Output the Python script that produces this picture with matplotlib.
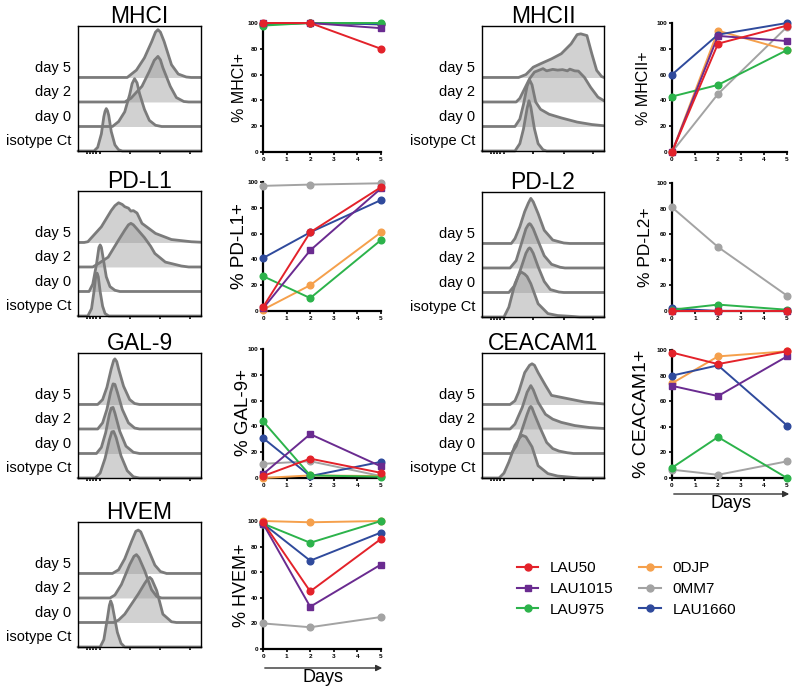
import matplotlib
matplotlib.use("Agg")
import matplotlib.pyplot as plt
from matplotlib.lines import Line2D
from matplotlib.patches import FancyArrowPatch

plt.rcParams['font.family'] = ['Liberation Sans', 'DejaVu Sans']

# ---------------- data ----------------
DAYS = [0, 2, 5]
PATIENTS = ["LAU50", "LAU1015", "LAU975", "0DJP", "0MM7", "LAU1660"]
ROW_LABELS = ["isotype Ct", "day 0", "day 2", "day 5"]

# % positive cells per patient, at days 0, 2, 5
MHCI_PCT = {"LAU50": [100, 100, 80], "LAU1015": [100, 100, 96], "LAU975": [98, 100, 100],
            "0DJP": [99, 100, 99], "0MM7": [99, 100, 99], "LAU1660": [99, 100, 99]}
MHCII_PCT = {"LAU50": [0, 84, 98], "LAU1015": [0, 90, 86], "LAU975": [43, 52, 79],
             "0DJP": [0, 94, 79], "0MM7": [0, 45, 97], "LAU1660": [60, 91, 100]}
PDL1_PCT = {"LAU50": [3, 61, 96], "LAU1015": [2, 47, 95], "LAU975": [27, 10, 55],
            "0DJP": [1, 20, 61], "0MM7": [97, 98, 99], "LAU1660": [41, 61, 86]}
PDL2_PCT = {"LAU50": [0, 0, 0], "LAU1015": [0, 0, 0], "LAU975": [1, 5, 1],
            "0DJP": [0, 0, 0], "0MM7": [81, 50, 12], "LAU1660": [2, 0, 0]}
GAL9_PCT = {"LAU50": [1.5, 15, 4], "LAU1015": [3, 34, 9], "LAU975": [44, 2, 1],
            "0DJP": [0, 2, 1.5], "0MM7": [11, 13, 1.5], "LAU1660": [31, 1.5, 12.5]}
CEACAM1_PCT = {"LAU50": [98, 89, 99], "LAU1015": [72, 64, 95], "LAU975": [8, 32, 0],
               "0DJP": [74, 95, 99], "0MM7": [6.5, 2.5, 13], "LAU1660": [80, 88, 41]}
HVEM_PCT = {"LAU50": [99, 45, 86], "LAU1015": [98, 33, 66], "LAU975": [98, 83, 100],
            "0DJP": [100, 99, 100], "0MM7": [20, 17, 25], "LAU1660": [98, 69, 91]}

# flow-cytometry histograms: (position, height) knots,
# curves in order isotype Ct, day 0, day 2, day 5
MHCI_HIST = [
    [(0, 0), (0.13, 0), (0.16, 0.15), (0.19, 0.7), (0.21, 1.4), (0.22, 1.62), (0.23, 1.73), (0.24, 1.64), (0.25, 1.45), (0.27, 0.8), (0.30, 0.25), (0.33, 0.05), (0.36, 0), (1, 0)],
    [(0, 0), (0.28, 0), (0.33, 0.2), (0.38, 0.6), (0.42, 1.3), (0.44, 1.75), (0.46, 1.95), (0.48, 1.78), (0.50, 1.35), (0.54, 0.7), (0.58, 0.25), (0.63, 0.05), (0.68, 0), (1, 0)],
    [(0, 0), (0.38, 0), (0.43, 0.15), (0.52, 0.64), (0.58, 1.25), (0.62, 1.7), (0.65, 1.86), (0.67, 1.72), (0.69, 1.4), (0.75, 0.64), (0.80, 0.18), (0.86, 0.02), (0.9, 0), (1, 0)],
    [(0, 0), (0.40, 0), (0.475, 0.3), (0.54, 0.8), (0.60, 1.47), (0.63, 1.85), (0.65, 1.95), (0.67, 1.85), (0.70, 1.47), (0.76, 0.52), (0.815, 0.14), (0.88, 0.02), (0.92, 0), (1, 0)],
]
MHCII_HIST = [
    [(0, 0), (0.27, 0), (0.31, 0.3), (0.34, 0.9), (0.37, 1.75), (0.385, 2.05), (0.40, 1.8), (0.43, 0.9), (0.46, 0.3), (0.50, 0.05), (0.53, 0), (1, 0)],
    [(0, 0), (0.27, 0), (0.31, 0.3), (0.34, 0.9), (0.37, 1.65), (0.39, 1.9), (0.41, 1.7), (0.44, 1.0), (0.48, 0.7), (0.55, 0.5), (0.65, 0.35), (0.78, 0.18), (0.9, 0.08), (1, 0.03)],
    [(0, 0), (0.28, 0), (0.31, 0.15), (0.35, 0.55), (0.39, 0.95), (0.43, 1.22), (0.47, 1.3), (0.50, 1.36), (0.53, 1.27), (0.58, 1.33), (0.62, 1.3), (0.66, 1.32), (0.70, 1.27), (0.72, 1.34), (0.76, 1.27), (0.79, 1.26), (0.84, 1.0), (0.89, 0.6), (0.95, 0.2), (1, 0.05)],
    [(0, 0), (0.30, 0), (0.36, 0.12), (0.42, 0.42), (0.48, 0.56), (0.57, 0.76), (0.65, 0.97), (0.73, 1.37), (0.78, 1.75), (0.81, 1.78), (0.86, 1.71), (0.90, 0.97), (0.94, 0.29), (0.98, 0.04), (1, 0)],
]
PDL1_HIST = [
    [(0, 0), (0.08, 0), (0.11, 0.3), (0.13, 1.0), (0.145, 1.65), (0.155, 1.75), (0.165, 1.6), (0.18, 1.0), (0.20, 0.4), (0.22, 0.1), (0.25, 0), (1, 0)],
    [(0, 0), (0.09, 0), (0.12, 0.3), (0.15, 1.1), (0.17, 1.8), (0.18, 1.9), (0.19, 1.8), (0.21, 1.2), (0.23, 0.6), (0.26, 0.2), (0.30, 0.05), (0.34, 0), (1, 0)],
    [(0, 0), (0.12, 0), (0.17, 0.15), (0.245, 0.4), (0.33, 1.1), (0.38, 1.5), (0.41, 1.72), (0.43, 1.78), (0.45, 1.72), (0.48, 1.55), (0.54, 1.2), (0.59, 0.85), (0.625, 0.55), (0.71, 0.2), (0.84, 0.04), (0.9, 0), (1, 0)],
    [(0, 0), (0.05, 0), (0.08, 0.03), (0.19, 0.64), (0.27, 1.3), (0.30, 1.5), (0.33, 1.62), (0.36, 1.55), (0.38, 1.46), (0.41, 1.4), (0.43, 1.28), (0.45, 1.3), (0.48, 1.2), (0.52, 0.78), (0.63, 0.37), (0.76, 0.12), (0.92, 0.03), (1, 0.01)],
]
PDL2_HIST = [
    [(0, 0), (0.18, 0), (0.22, 0.4), (0.27, 1.36), (0.30, 1.7), (0.32, 1.84), (0.35, 1.75), (0.37, 1.65), (0.40, 1.36), (0.46, 0.54), (0.54, 0.14), (0.62, 0.06), (0.75, 0.02), (0.8, 0), (1, 0)],
    [(0, 0), (0.22, 0), (0.27, 0.3), (0.32, 1.0), (0.36, 1.6), (0.38, 1.78), (0.39, 1.82), (0.40, 1.78), (0.42, 1.6), (0.46, 1.05), (0.51, 0.45), (0.56, 0.12), (0.63, 0.02), (0.67, 0), (1, 0)],
    [(0, 0), (0.23, 0), (0.28, 0.3), (0.32, 0.95), (0.36, 1.6), (0.38, 1.77), (0.39, 1.81), (0.40, 1.77), (0.42, 1.6), (0.46, 1.1), (0.51, 0.5), (0.57, 0.15), (0.64, 0.03), (0.68, 0), (1, 0)],
    [(0, 0), (0.24, 0), (0.27, 0.2), (0.31, 0.68), (0.35, 1.3), (0.38, 1.65), (0.40, 1.84), (0.42, 1.7), (0.46, 1.22), (0.51, 0.54), (0.58, 0.14), (0.67, 0.02), (0.72, 0), (1, 0)],
]
GAL9_HIST = [
    [(0, 0), (0.14, 0), (0.18, 0.2), (0.22, 0.8), (0.255, 1.55), (0.275, 1.88), (0.29, 1.9), (0.31, 1.65), (0.35, 0.9), (0.40, 0.3), (0.45, 0.05), (0.5, 0), (1, 0)],
    [(0, 0), (0.15, 0), (0.19, 0.25), (0.225, 0.85), (0.255, 1.6), (0.27, 1.85), (0.285, 1.88), (0.30, 1.65), (0.34, 0.9), (0.39, 0.3), (0.45, 0.05), (0.5, 0), (1, 0)],
    [(0, 0), (0.16, 0), (0.20, 0.25), (0.235, 0.8), (0.265, 1.5), (0.285, 1.84), (0.30, 1.82), (0.32, 1.5), (0.36, 0.8), (0.41, 0.25), (0.46, 0.04), (0.5, 0), (1, 0)],
    [(0, 0), (0.16, 0), (0.20, 0.2), (0.235, 0.7), (0.27, 1.45), (0.29, 1.8), (0.30, 1.86), (0.315, 1.75), (0.33, 1.45), (0.37, 0.75), (0.42, 0.2), (0.46, 0.04), (0.5, 0), (1, 0)],
]
CEACAM1_HIST = [
    [(0, 0), (0.14, 0), (0.18, 0.2), (0.22, 0.65), (0.27, 1.33), (0.31, 1.65), (0.33, 1.74), (0.36, 1.68), (0.41, 1.27), (0.46, 0.5), (0.54, 0.18), (0.62, 0.08), (0.71, 0.04), (0.8, 0), (1, 0)],
    [(0, 0), (0.24, 0), (0.28, 0.3), (0.33, 1.0), (0.37, 1.6), (0.39, 1.86), (0.40, 1.92), (0.41, 1.86), (0.43, 1.6), (0.475, 1.06), (0.53, 0.45), (0.58, 0.2), (0.63, 0.1), (0.7, 0.03), (0.75, 0), (1, 0)],
    [(0, 0), (0.23, 0), (0.27, 0.2), (0.33, 0.88), (0.37, 1.5), (0.40, 1.77), (0.42, 1.6), (0.46, 1.09), (0.52, 0.6), (0.58, 0.4), (0.65, 0.27), (0.76, 0.14), (0.88, 0.06), (1, 0.02)],
    [(0, 0), (0.23, 0), (0.27, 0.15), (0.30, 0.5), (0.35, 1.3), (0.39, 1.6), (0.41, 1.66), (0.43, 1.6), (0.46, 1.3), (0.52, 0.78), (0.57, 0.37), (0.64, 0.3), (0.71, 0.23), (0.84, 0.1), (0.98, 0.03), (1, 0.02)],
]
HVEM_HIST = [
    [(0, 0), (0.18, 0), (0.21, 0.3), (0.24, 1.2), (0.255, 1.7), (0.266, 1.88), (0.278, 1.72), (0.29, 1.4), (0.32, 0.6), (0.35, 0.15), (0.38, 0), (1, 0)],
    [(0, 0), (0.29, 0), (0.33, 0.1), (0.38, 0.34), (0.49, 1.16), (0.543, 1.6), (0.57, 1.8), (0.584, 1.84), (0.60, 1.76), (0.64, 1.3), (0.69, 0.34), (0.76, 0.03), (0.8, 0), (1, 0)],
    [(0, 0), (0.26, 0), (0.30, 0.12), (0.353, 0.55), (0.42, 1.36), (0.455, 1.7), (0.475, 1.77), (0.495, 1.65), (0.543, 1.1), (0.598, 0.34), (0.64, 0.06), (0.68, 0), (1, 0)],
    [(0, 0), (0.28, 0), (0.33, 0.15), (0.38, 0.6), (0.435, 1.3), (0.47, 1.72), (0.49, 1.77), (0.51, 1.7), (0.557, 1.15), (0.625, 0.34), (0.67, 0.08), (0.72, 0), (1, 0)],
]

# ---------------- style ----------------
COLORS = {"LAU50": "#e3222a", "LAU1015": "#6a2b90", "LAU975": "#2cb34b",
          "0DJP": "#f5a04c", "0MM7": "#a3a3a3", "LAU1660": "#2f4a9c"}
MARKERS = {"LAU50": "o", "LAU1015": "s", "LAU975": "o", "0DJP": "o", "0MM7": "o", "LAU1660": "o"}
DRAW_ORDER = ["0MM7", "0DJP", "LAU1660", "LAU975", "LAU1015", "LAU50"]

W, H = 800, 690
fig = plt.figure(figsize=(W / 100, H / 100), dpi=100)


def rect(x0, y0, x1, y1):
    return [x0 / W, 1 - y1 / H, (x1 - x0) / W, (y1 - y0) / H]


def draw_hist(r, title, curves):
    ax = fig.add_axes(r)
    for i, curve in enumerate(curves):
        xs = [p[0] for p in curve]
        hs = [p[1] + i for p in curve]
        ax.fill_between(xs, i, hs, color="#9a9a9a", alpha=0.45, lw=0)
        ax.plot(xs, hs, color="#7b7b7b", lw=2.0, solid_joinstyle="round",
                solid_capstyle="round", clip_on=(i > 0))
    ax.set_xlim(0, 1)
    ax.set_ylim(0, 5.1)
    ax.set_yticks([])
    ax.set_xticks([0.07, 0.1, 0.12, 0.15, 0.18, 0.42, 0.67, 0.91])
    ax.set_xticklabels([])
    ax.tick_params(axis="x", length=2, width=1.2, color="black", direction="out")
    for s in ax.spines.values():
        s.set_linewidth(1.0)
        s.set_color("black")
    ax.text(0.5, 1.026, title, transform=ax.transAxes, ha="center", va="baseline", fontsize=16.5)
    tr = ax.get_yaxis_transform()
    for i, lab in enumerate(ROW_LABELS):
        ax.text(-0.055, i + 0.4, lab, transform=tr, ha="right", va="center", fontsize=10.5)
    return ax


def draw_line(r, data, ylabel, lab_xy, lab_fs):
    ax = fig.add_axes(r)
    for p in DRAW_ORDER:
        ax.plot(DAYS, data[p], color=COLORS[p], marker=MARKERS[p], ms=4.8, lw=1.4,
                clip_on=False, zorder=3)
    ax.set_xlim(0, 5)
    ax.set_ylim(0, 100)
    ax.set_xticks(range(6))
    ax.set_yticks(range(0, 101, 20))
    for s in ["top", "right"]:
        ax.spines[s].set_visible(False)
    for s in ["left", "bottom"]:
        ax.spines[s].set_linewidth(1.6)
    ax.tick_params(labelsize=4.6, width=1.2, length=2.5, pad=1.2)
    for t in ax.get_xticklabels() + ax.get_yticklabels():
        t.set_fontweight("bold")
    fig.text(lab_xy[0] / W, 1 - lab_xy[1] / H, ylabel, rotation=90, ha="center",
             va="center", fontsize=lab_fs)
    return ax


def days_arrow(x0, x1, y, ty):
    fig.add_artist(FancyArrowPatch(
        (x0 / W, 1 - y / H), (x1 / W, 1 - y / H), transform=fig.transFigure,
        arrowstyle="-|>", mutation_scale=9, lw=1.0, color="#333333"))
    fig.text((x0 + x1) / 2 / W, 1 - ty / H, "Days", ha="center", va="center", fontsize=13)


# left column
draw_hist(rect(78, 26, 201, 151), "MHCI", MHCI_HIST)
draw_line(rect(263, 23, 381, 152), MHCI_PCT, "% MHCI+", (240, 88), 11.5)
draw_hist(rect(78, 191, 201, 316), "PD-L1", PDL1_HIST)
draw_line(rect(263, 182, 381, 311), PDL1_PCT, "% PD-L1+", (240, 246), 13.5)
draw_hist(rect(78, 353, 201, 478), "GAL-9", GAL9_HIST)
draw_line(rect(263, 349, 381, 478), GAL9_PCT, "% GAL-9+", (243, 413), 13.5)
draw_hist(rect(78, 522, 201, 647), "HVEM", HVEM_HIST)
draw_line(rect(263, 521, 381, 649), HVEM_PCT, "% HVEM+", (242, 585), 13)
days_arrow(262, 385, 668, 677)

# right column
draw_hist(rect(482, 26, 604, 151), "MHCII", MHCII_HIST)
draw_line(rect(672, 23, 787, 152), MHCII_PCT, "% MHCII+", (643, 88), 11.5)
draw_hist(rect(482, 192, 604, 317), "PD-L2", PDL2_HIST)
draw_line(rect(672, 183, 787, 311), PDL2_PCT, "% PD-L2+", (645, 247), 12.5)
draw_hist(rect(482, 353, 604, 478), "CEACAM1", CEACAM1_HIST)
draw_line(rect(672, 350, 787, 478), CEACAM1_PCT, "% CEACAM1+", (642, 414), 14)
days_arrow(671, 792, 494, 503)

# legend
handles = [Line2D([0], [0], color=COLORS[p], marker=MARKERS[p], ms=5, lw=1.5) for p in PATIENTS]
fig.legend(handles, PATIENTS, ncol=2, loc="upper left", bbox_to_anchor=(517 / W, 1 - 561 / H),
           frameon=False, fontsize=11, handlelength=1.4, handletextpad=0.75,
           columnspacing=1.7, labelspacing=0.45, borderaxespad=0, borderpad=0, numpoints=1)

fig.savefig("out.png", dpi=100)
